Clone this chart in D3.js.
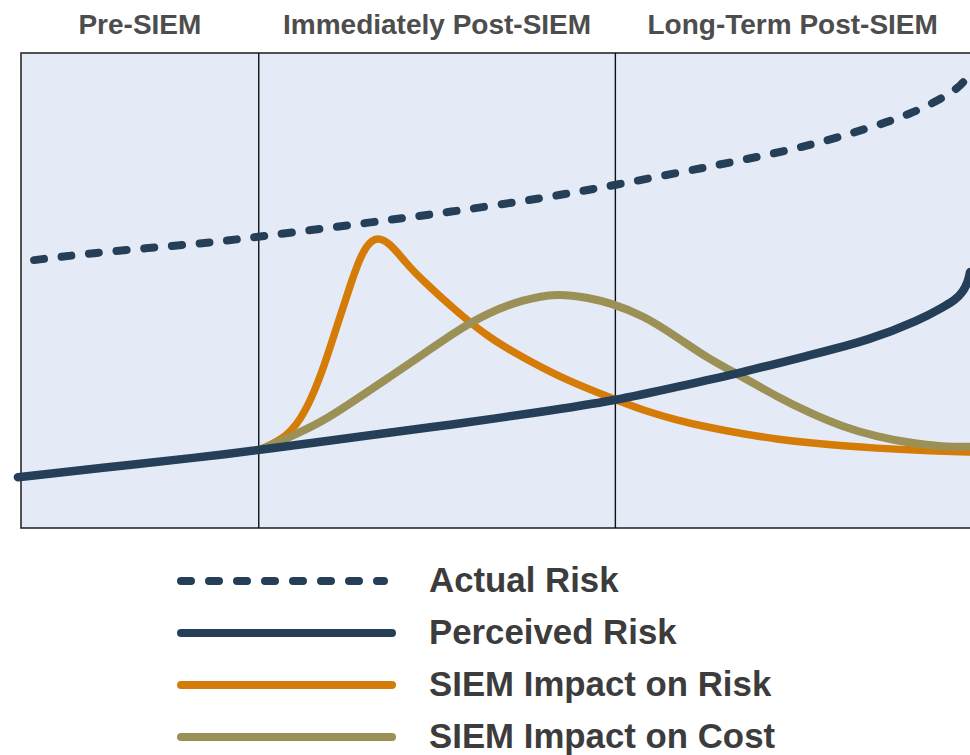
<!DOCTYPE html>
<html>
<head>
<meta charset="utf-8">
<script src="https://cdn.jsdelivr.net/npm/d3@7"></script>
<style>
  html, body { margin: 0; padding: 0; background: #ffffff; }
  svg { display: block; }
</style>
</head>
<body>
<svg id="chart" width="970" height="755"></svg>
<script>
// ---------------- data ----------------
const phaseLabels = ["Pre-SIEM", "Immediately Post-SIEM", "Long-Term Post-SIEM"];
const phaseBounds = [0, 10, 25, 40];

const actualX = [0.55, 3.3, 7.5, 10, 14.8, 18, 21.8, 25, 29.3, 32.8, 35, 37.4, 39.4, 39.8, 39.95];
const actualY = [56.4, 58.1, 59.8, 61.3, 64.4, 66.5, 69.3, 72.2, 76.4, 80.0, 83.2, 86.9, 92.2, 94.9, 97.1];

const perceivedX = [-0.13, 3.32, 7.53, 10, 14.76, 18.04, 21.83, 25.07, 27.59, 30.37, 33.19, 35.71, 37.81, 38.78, 39.29, 39.62, 39.83, 39.92];
const perceivedY = [10.7, 12.6, 14.9, 16.4, 19.6, 21.7, 24.4, 26.9, 29.7, 32.8, 36.4, 39.6, 43.8, 46.5, 48.0, 49.7, 51.8, 53.9];

const riskImpactX = [10, 11.23, 11.95, 12.66, 13.33, 13.92, 14.34, 14.89, 15.52, 16.15, 16.87, 18.25, 19.64, 21.07, 22.88, 25.07, 26.16, 27.59, 28.98, 30.37, 31.8, 33.19, 34.57, 36.0, 37.39, 39.92];
const riskImpactY = [16.4, 19.2, 24.2, 32.6, 43.2, 52.2, 58.1, 61.6, 60.0, 56.0, 52.2, 45.9, 40.2, 36.0, 31.2, 26.9, 24.8, 22.7, 21.1, 19.8, 18.7, 17.9, 17.3, 16.8, 16.4, 16.0];

const costImpactX = [10, 11.23, 12.66, 14.05, 15.44, 16.87, 18.25, 19.64, 21.07, 22.54, 23.93, 24.77, 26.16, 27.59, 28.98, 30.37, 31.8, 33.19, 34.57, 36.0, 37.39, 38.78, 39.92];
const costImpactY = [16.4, 18.95, 22.3, 26.9, 31.6, 36.4, 41.3, 45.3, 48.0, 49.5, 48.4, 47.4, 44.8, 40.2, 35.4, 31.8, 27.6, 24.2, 21.3, 19.2, 17.9, 17.1, 17.1];

const seriesNames = ["Actual Risk", "Perceived Risk", "SIEM Impact on Risk", "SIEM Impact on Cost"];

// ---------------- layout / style ----------------
const NAVY = "#243f57", ORANGE = "#d57c08", OLIVE = "#9b9157";
const svg = d3.select("#chart");
const plot = { left: 21, right: 972, top: 53, bottom: 528 };

const x = d3.scaleLinear().domain([0, 40]).range([plot.left, plot.right]);
const y = d3.scaleLinear().domain([0, 100]).range([plot.bottom, plot.top]);

// background
svg.append("rect")
  .attr("x", plot.left).attr("y", plot.top)
  .attr("width", plot.right - plot.left).attr("height", plot.bottom - plot.top)
  .attr("fill", "#e5ebf6").attr("stroke", "#2a2a2a").attr("stroke-width", 1.6);

// phase separators
svg.selectAll("line.sep").data(phaseBounds.slice(1, -1)).enter().append("line")
  .attr("class", "sep")
  .attr("x1", d => x(d)).attr("x2", d => x(d))
  .attr("y1", plot.top).attr("y2", plot.bottom)
  .attr("stroke", "#111").attr("stroke-width", 1.4);

// phase labels
svg.selectAll("text.phase").data(phaseLabels).enter().append("text")
  .attr("class", "phase")
  .attr("x", (d, i) => (x(phaseBounds[i]) + Math.min(x(phaseBounds[i + 1]), 970)) / 2)
  .attr("y", 34)
  .attr("text-anchor", "middle")
  .attr("font-family", "Liberation Sans, Arial, sans-serif")
  .attr("font-weight", "bold")
  .attr("font-size", 28)
  .attr("fill", "#4d4d4d")
  .text(d => d);

const zip = (xs, ys) => xs.map((v, i) => [v, ys[i]]);
const line = d3.line().x(d => x(d[0])).y(d => y(d[1])).curve(d3.curveBasis);

const series = [
  { pts: zip(riskImpactX, riskImpactY), color: ORANGE, w: 7.5, dash: null },
  { pts: zip(costImpactX, costImpactY), color: OLIVE, w: 8, dash: null },
  { pts: zip(perceivedX, perceivedY), color: NAVY, w: 8.5, dash: null },
  { pts: zip(actualX, actualY), color: NAVY, w: 8, dash: "10 17.7" }
];

series.forEach(s => {
  svg.append("path")
    .attr("d", line(s.pts))
    .attr("fill", "none")
    .attr("stroke", s.color)
    .attr("stroke-width", s.w)
    .attr("stroke-linecap", "round")
    .attr("stroke-linejoin", "round")
    .attr("stroke-dasharray", s.dash);
});

// legend
const legendStyles = [
  { color: NAVY, dash: "10 18" },
  { color: NAVY, dash: null },
  { color: ORANGE, dash: null },
  { color: OLIVE, dash: null }
];
const legendY = d3.scalePoint().domain(seriesNames).range([581, 737]);
const lg = svg.selectAll("g.leg").data(seriesNames).enter().append("g")
  .attr("class", "leg")
  .attr("transform", d => `translate(0,${legendY(d)})`);
lg.append("line")
  .attr("x1", 181).attr("x2", (d, i) => i === 0 ? 384 : 392)
  .attr("y1", 0).attr("y2", 0)
  .attr("stroke", (d, i) => legendStyles[i].color)
  .attr("stroke-width", 8)
  .attr("stroke-linecap", "round")
  .attr("stroke-dasharray", (d, i) => legendStyles[i].dash);
lg.append("text")
  .attr("x", 429).attr("y", 11)
  .attr("font-family", "Liberation Sans, Arial, sans-serif")
  .attr("font-weight", "bold")
  .attr("font-size", 34.8)
  .attr("fill", "#3c3c3c")
  .text(d => d);
</script>
</body>
</html>
